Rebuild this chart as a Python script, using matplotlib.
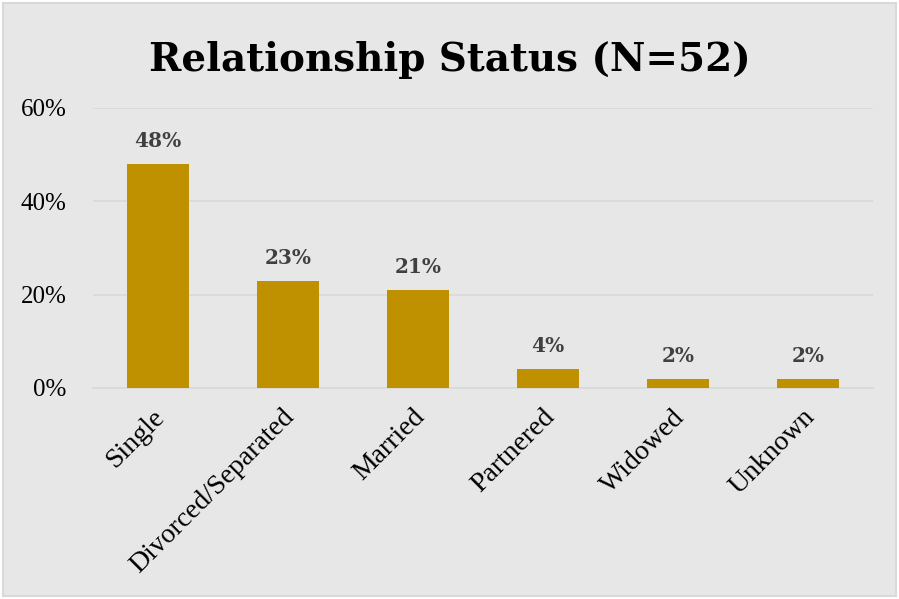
import matplotlib
matplotlib.use('Agg')
import matplotlib.pyplot as plt
import matplotlib.transforms as mtransforms
from matplotlib.patches import Rectangle
from matplotlib.ticker import FuncFormatter

categories = ['Single', 'Divorced/Separated', 'Married', 'Partnered', 'Widowed', 'Unknown']
percents = [48, 23, 21, 4, 2, 2]
yticks = [0, 20, 40, 60]
title = 'Relationship Status (N=52)'

bg = '#e7e7e7'
bar_color = '#bf9000'
grid_color = '#d9d9d9'

plt.rcParams['font.family'] = ['Liberation Serif', 'DejaVu Serif']

fig = plt.figure(figsize=(8.99, 5.99), dpi=100)
fig.patch.set_facecolor(bg)
# white margin and thin grey frame round the chart area
fig.patches.append(Rectangle((0, 0), 1, 1, transform=fig.transFigure,
                             fill=False, edgecolor='white', linewidth=5))
fig.patches.append(Rectangle((3 / 899, 3 / 599), 893 / 899, 593 / 599,
                             transform=fig.transFigure, fill=False,
                             edgecolor=grid_color, linewidth=1.5))

ax = fig.add_axes([93 / 899, 1 - 388 / 599, 780 / 899, 280 / 599])
ax.set_facecolor(bg)

x = range(len(categories))
ax.bar(x, percents, width=0.48, color=bar_color, zorder=3)
for xi, v in zip(x, percents):
    ax.text(xi, v + 2.8, f'{v}%', ha='center', va='bottom', fontsize=14.5,
            fontweight='bold', color='#404040', family='DejaVu Serif')

ax.set_xlim(-0.5, len(categories) - 0.5)
ax.set_ylim(0, 60)
ax.set_yticks(yticks)
ax.yaxis.set_major_formatter(FuncFormatter(lambda v, p: f'{v:.0f}%'))
ax.grid(axis='y', color=grid_color, linewidth=1.2, zorder=0)
for s in ['top', 'right', 'left']:
    ax.spines[s].set_visible(False)
ax.spines['bottom'].set_color(grid_color)
ax.spines['bottom'].set_linewidth(1.2)
ax.tick_params(axis='both', length=0)
ax.tick_params(axis='y', pad=19, labelsize=18)
ax.set_xticks(list(x))
ax.set_xticklabels(categories, rotation=45, ha='right', rotation_mode='anchor')
ax.tick_params(axis='x', pad=12, labelsize=20)
shift = mtransforms.ScaledTranslation(-6 / 100, 0, fig.dpi_scale_trans)
for lab in ax.get_xticklabels():
    lab.set_transform(lab.get_transform() + shift)

fig.text(0.5, 1 - 60 / 599, title, ha='center', va='center', fontsize=28,
         fontweight='bold', family='DejaVu Serif')

fig.savefig('out.png', dpi=100, facecolor=fig.get_facecolor())
